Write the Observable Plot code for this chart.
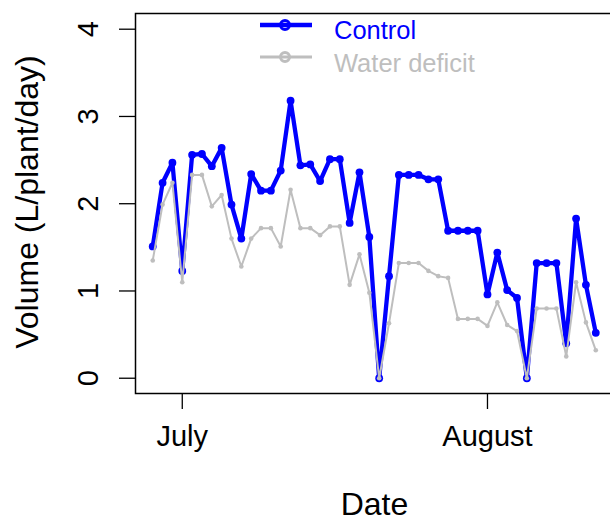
<!DOCTYPE html>
<html>
<head>
<meta charset="utf-8">
<script src="https://cdn.jsdelivr.net/npm/d3@7"></script>
<script src="https://cdn.jsdelivr.net/npm/@observablehq/plot@0.6"></script>
<style>
  body { margin: 0; background: #fff; }
  #wrap { width: 610px; height: 523px; overflow: hidden; position: relative; background: #fff; }
</style>
</head>
<body>
<div id="wrap"></div>
<script>
// ---- data ----
const dates = [
  "2015-06-28","2015-06-29","2015-06-30",
  "2015-07-01","2015-07-02","2015-07-03","2015-07-04","2015-07-05","2015-07-06","2015-07-07","2015-07-08",
  "2015-07-09","2015-07-10","2015-07-11","2015-07-12","2015-07-13","2015-07-14","2015-07-15","2015-07-16",
  "2015-07-17","2015-07-18","2015-07-19","2015-07-20","2015-07-21","2015-07-22","2015-07-23","2015-07-24",
  "2015-07-25","2015-07-26","2015-07-27","2015-07-28","2015-07-29","2015-07-30","2015-07-31",
  "2015-08-01","2015-08-02","2015-08-03","2015-08-04","2015-08-05","2015-08-06","2015-08-07","2015-08-08",
  "2015-08-09","2015-08-10","2015-08-11","2015-08-12"
];
const control = [
  1.51, 2.24, 2.47,
  1.23, 2.56, 2.57, 2.43, 2.64, 1.99, 1.60, 2.34,
  2.15, 2.15, 2.38, 3.18, 2.44, 2.45, 2.26, 2.51,
  2.51, 1.78, 2.36, 1.62, 0.00, 1.17, 2.33, 2.33,
  2.33, 2.28, 2.28, 1.69, 1.69, 1.69, 1.69,
  0.96, 1.44, 1.01, 0.92, 0.00, 1.32, 1.32, 1.32,
  0.40, 1.83, 1.07, 0.52
];
const deficit = [
  1.35, 1.99, 2.24,
  1.10, 2.33, 2.33, 1.97, 2.10, 1.60, 1.28, 1.60,
  1.72, 1.72, 1.51, 2.16, 1.72, 1.72, 1.64, 1.74,
  1.74, 1.07, 1.42, 0.98, 0.00, 0.63, 1.32, 1.32,
  1.32, 1.23, 1.17, 1.15, 0.68, 0.68, 0.68,
  0.60, 0.87, 0.61, 0.54, 0.00, 0.80, 0.80, 0.80,
  0.25, 1.10, 0.64, 0.32
];
const seriesNames = ["Control", "Water deficit"];
const seriesColors = ["#0000FF", "#BEBEBE"];
const yTicks = [0, 1, 2, 3, 4];
const xTickDates = ["2015-07-01", "2015-08-01"];
const xTickLabels = ["July", "August"];
const yLabel = "Volume (L/plant/day)";
const xLabel = "Date";

// ---- build ----
const parse = d3.utcParse("%Y-%m-%d");
const ctrlData = dates.map((d, i) => ({date: parse(d), value: control[i]}));
const defData = dates.map((d, i) => ({date: parse(d), value: deficit[i]}));
const xTicks = xTickDates.map(parse);
const DAY = 864e5;
const x0 = d3.min(ctrlData, d => d.date), x1 = d3.max(ctrlData, d => d.date);
const span = (x1 - x0) * 0.04;
const xDomain = [new Date(+x0 - span + 0.05 * DAY), new Date(+x1 + span)];

const font = "'Liberation Sans', Arial, Helvetica, sans-serif";
const FS = 29;   // tick labels
const LFS = 32;  // axis titles

const plot = Plot.plot({
  width: 610,
  height: 523,
  marginLeft: 135,
  marginRight: -3,
  marginTop: 13,
  marginBottom: 130,
  style: {fontFamily: font, background: "white", overflow: "hidden", color: "black"},
  x: {type: "utc", domain: xDomain},
  y: {domain: [-0.175, 4.18]},
  marks: [
    Plot.axisY({ticks: yTicks, tickSize: 16, tickFormat: () => "", label: null, strokeWidth: 1.3}),
    Plot.axisX({ticks: xTicks, tickSize: 16, tickFormat: () => "", label: null, strokeWidth: 1.3}),
    Plot.text(yTicks, {y: d => d, text: d => String(d), frameAnchor: "left", textAnchor: "middle", lineAnchor: "middle", dx: -47, rotate: -90, fontSize: FS, fill: "black"}),
    Plot.text(xTicks, {x: d => d, text: (d, i) => xTickLabels[i], frameAnchor: "bottom", textAnchor: "middle", lineAnchor: "middle", dy: 43.7, fontSize: FS, fill: "black"}),
    Plot.text([xLabel], {text: d => d, frameAnchor: "bottom", textAnchor: "middle", lineAnchor: "middle", dy: 111, fontSize: LFS, fill: "black"}),
    Plot.text([yLabel], {text: d => d, frameAnchor: "left", textAnchor: "middle", lineAnchor: "middle", dx: -108, dy: -1.5, rotate: -90, fontSize: LFS, fill: "black"}),
    Plot.line(ctrlData, {x: "date", y: "value", stroke: seriesColors[0], strokeWidth: 4.3, strokeLinejoin: "round"}),
    Plot.dot(ctrlData, {x: "date", y: "value", r: 3.9, fill: seriesColors[0]}),
    Plot.line(defData, {x: "date", y: "value", stroke: seriesColors[1], strokeWidth: 2}),
    Plot.dot(defData, {x: "date", y: "value", r: 2.3, fill: seriesColors[1]}),
    Plot.frame({stroke: "black", strokeWidth: 1.5})
  ]
});

// legend (inside the plot, top)
const svg = d3.select(plot);
const leg = svg.append("g").attr("font-family", font).attr("font-size", 25.5).attr("text-anchor", "start");
const legLayout = [
  {ly: 25, ty: 39, lw: 4.3},
  {ly: 57, ty: 71.5, lw: 3}
];
seriesNames.forEach((name, i) => {
  const L = legLayout[i];
  leg.append("line").attr("x1", 260).attr("x2", 312).attr("y1", L.ly).attr("y2", L.ly)
    .attr("stroke", seriesColors[i]).attr("stroke-width", L.lw);
  leg.append("circle").attr("cx", 285).attr("cy", L.ly).attr("r", 4.5)
    .attr("fill", "none").attr("stroke", seriesColors[i]).attr("stroke-width", 3);
  leg.append("text").attr("x", 334).attr("y", L.ty).attr("fill", seriesColors[i]).text(name);
});

document.getElementById("wrap").appendChild(plot);
</script>
</body>
</html>
